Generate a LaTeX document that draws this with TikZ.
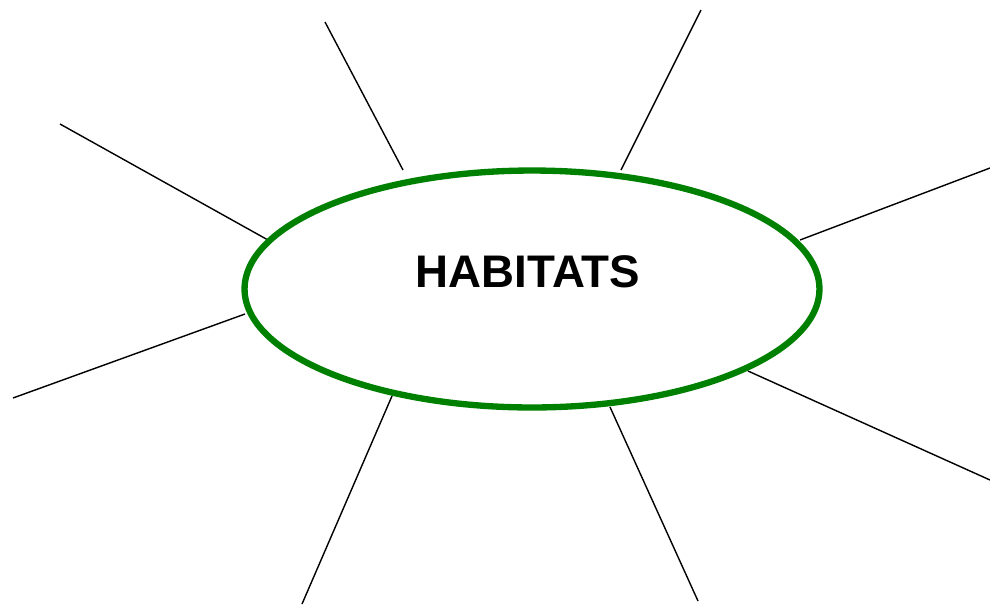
\documentclass[tikz,border=0pt]{standalone}
\usepackage{fontspec}
\setmainfont{Liberation Sans}
\usetikzlibrary{shapes.geometric}

\definecolor{habgreen}{RGB}{0,128,0}

\begin{document}
\begin{tikzpicture}[x=0.02cm, y=-0.02cm,
    spoke/.style={draw=black, line width=0.8pt}]
  \useasboundingbox (0,0) rectangle (990,606);
  % the spokes
  \coordinate (o1) at (325,22);   \coordinate (i1) at (403,170);
  \coordinate (o2) at (701,10);   \coordinate (i2) at (621,170);
  \coordinate (o3) at (60,124);   \coordinate (i3) at (268,240);
  \coordinate (o4) at (990,168);  \coordinate (i4) at (800,240);
  \coordinate (o5) at (13,398);   \coordinate (i5) at (245,314);
  \coordinate (o6) at (990,480);  \coordinate (i6) at (748,371);
  \coordinate (o7) at (302,604);  \coordinate (i7) at (392,396);
  \coordinate (o8) at (698,601);  \coordinate (i8) at (610,407);
  \foreach \k in {1,...,8}
    \draw[spoke] (o\k) -- (i\k);
  % the hub
  \node[ellipse, draw=habgreen, line width=3.6pt, inner sep=0pt,
        minimum width=11.5cm, minimum height=4.74cm] (hab) at (532,289) {};
  \node[font=\fontsize{26}{31}\selectfont\bfseries] (title) at (528,272) {HABITATS};
\end{tikzpicture}
\end{document}
